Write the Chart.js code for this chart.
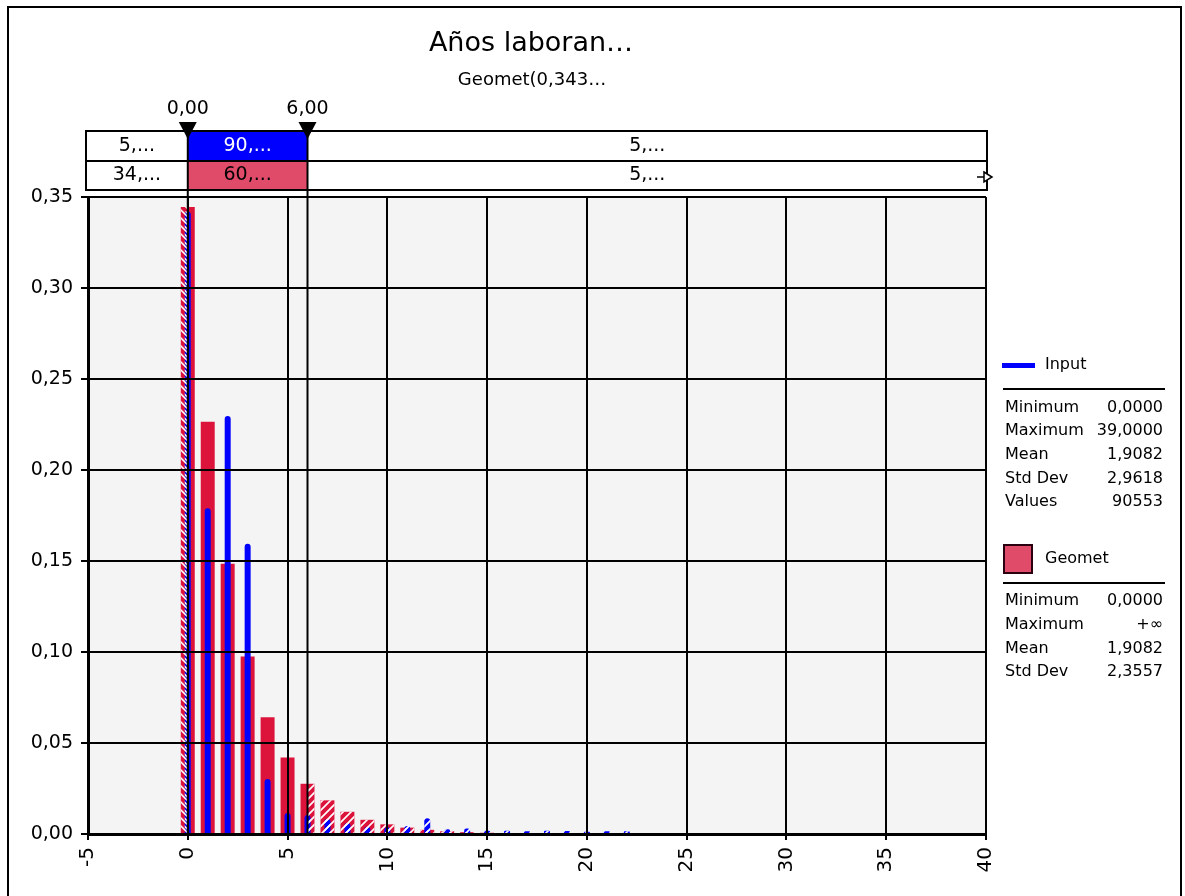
<!DOCTYPE html>
<html>
<head>
<meta charset="utf-8">
<title>Años laboran…</title>
<script src="https://cdn.jsdelivr.net/npm/chart.js@4.4.1/dist/chart.umd.min.js"></script>
<style>
  html, body { margin: 0; padding: 0; background: #fff; }
  #wrap { position: relative; width: 1185px; height: 896px; }
</style>
</head>
<body>
<div id="wrap"><canvas id="chart" width="1185" height="896"></canvas></div>
<script>
// valeurs
const inputBins   = [0, 1, 2, 3, 4, 5, 6, 7, 8, 9, 10, 11, 12, 13, 14, 15, 16, 17, 18, 19, 20, 21, 22];
const inputValues = [0.342, 0.179, 0.2297, 0.1595, 0.0302, 0.0115, 0.0105, 0.0083, 0.006, 0.004, 0.0037, 0.0044,
                     0.0086, 0.0026, 0.003, 0.0018, 0.0018, 0.0015, 0.0018, 0.0017, 0.0013, 0.0015, 0.0015];
const geometBins   = [0, 1, 2, 3, 4, 5, 6, 7, 8, 9, 10, 11, 12, 13, 14, 15, 16, 17, 18];
const geometValues = [0.3445, 0.2265, 0.1485, 0.0975, 0.0642, 0.042, 0.0276, 0.0185, 0.0122, 0.0078, 0.0053,
                      0.0035, 0.0023, 0.0015, 0.001, 0.0007, 0.0004, 0.0003, 0.0002];

const xMin = -5, xMax = 40, xStep = 5;
const yMin = 0, yMax = 0.35, yStep = 0.05;

const titleText = 'Años laboran…';
const subtitleText = 'Geomet(0,343…';
const delimiters = [0, 6];
const delimiterLabels = ['0,00', '6,00'];
const bandInput  = ['5,...', '90,...', '5,...'];
const bandGeomet = ['34,...', '60,...', '5,...'];

const inputStats = [
    ['Minimum', '0,0000'],
    ['Maximum', '39,0000'],
    ['Mean', '1,9082'],
    ['Std Dev', '2,9618'],
    ['Values', '90553'],
];
const geometStats = [
    ['Minimum', '0,0000'],
    ['Maximum', '+∞'],
    ['Mean', '1,9082'],
    ['Std Dev', '2,3557'],
];

const BLUE = '#0000FF';
const RED = '#DC143C';
const PINK = '#E04B6A';
const FONT = "'DejaVu Sans', Verdana, sans-serif";

Chart.defaults.font.family = FONT;
Chart.defaults.color = '#000';

const fmt = v => v.toFixed(2).replace('.', ',');

// hachures blanches sur la partie hors délimiteurs
function hatchRect(ctx, x0, x1, y0, y1, slash) {
    const h = y1 - y0;
    ctx.save();
    ctx.beginPath();
    ctx.rect(x0, y0, x1 - x0, h);
    ctx.clip();
    ctx.strokeStyle = '#fff';
    ctx.lineWidth = 1.6;
    ctx.beginPath();
    const start = Math.floor((x0 - h) / 8) * 8;
    for (let t = start; t < x1 + 8; t += 8) {
        if (slash) {
            ctx.moveTo(t, y1 + 2);
            ctx.lineTo(t + h + 4, y0 - 2);
        } else {
            ctx.moveTo(t, y0 - 2);
            ctx.lineTo(t + h + 4, y1 + 2);
        }
    }
    ctx.stroke();
    ctx.restore();
}

function text(ctx, str, x, y, size, align, color) {
    ctx.font = `${size}px ${FONT}`;
    ctx.textAlign = align || 'center';
    ctx.textBaseline = 'middle';
    ctx.fillStyle = color || '#000';
    ctx.fillText(str, x, y);
}

const extras = {
    id: 'extras',
    beforeDraw(chart) {
        const {ctx, chartArea: a} = chart;
        ctx.save();
        ctx.fillStyle = '#F4F4F4';
        ctx.fillRect(a.left, a.top, a.right - a.left, a.bottom - a.top);
        ctx.restore();
    },
    afterDatasetsDraw(chart) {
        const {ctx} = chart;
        const xs = chart.scales.x;
        const p0 = xs.getPixelForValue(delimiters[0]);
        const p1 = xs.getPixelForValue(delimiters[1]);
        // même ordre que le dessin : rouge d'abord, puis bleu
        [1, 0].forEach(i => {
            chart.getDatasetMeta(i).data.forEach(bar => {
                const {x, y, base, width} = bar.getProps(['x', 'y', 'base', 'width'], true);
                const l = x - width / 2, r = x + width / 2;
                if (l < p0) hatchRect(ctx, l, Math.min(r, p0), y, base, false);
                if (r > p1) hatchRect(ctx, Math.max(l, p1), r, y, base, true);
            });
        });
    },
    afterDraw(chart) {
        const {ctx, chartArea: a} = chart;
        const xs = chart.scales.x;
        const px = delimiters.map(v => xs.getPixelForValue(v));
        ctx.save();

        // cadre
        ctx.strokeStyle = '#000';
        ctx.lineWidth = 2;
        ctx.strokeRect(8, 7, 1173, 900);

        // titre
        text(ctx, titleText, 531, 44, 27);
        text(ctx, subtitleText, 532, 80, 18);

        // bandeau des délimiteurs
        const bl = a.left - 2, br = a.right + 1;
        const rows = [131, 161, 190];
        ctx.fillStyle = '#fff';
        ctx.fillRect(bl, rows[0], br - bl, rows[2] - rows[0]);
        ctx.fillStyle = BLUE;
        ctx.fillRect(px[0], rows[0], px[1] - px[0], rows[1] - rows[0]);
        ctx.fillStyle = PINK;
        ctx.fillRect(px[0], rows[1], px[1] - px[0], rows[2] - rows[1]);
        ctx.strokeStyle = '#000';
        ctx.lineWidth = 2;
        ctx.strokeRect(bl, rows[0], br - bl, rows[2] - rows[0]);
        ctx.beginPath();
        ctx.moveTo(bl, rows[1]);
        ctx.lineTo(br, rows[1]);
        ctx.stroke();

        const cells = [[bl, px[0]], [px[0], px[1]], [px[1], br]];
        cells.forEach(([c0, c1], k) => {
            const cx = (c0 + c1) / 2;
            text(ctx, bandInput[k], cx, (rows[0] + rows[1]) / 2, 19, 'center', k === 1 ? '#fff' : '#000');
            text(ctx, bandGeomet[k], cx, (rows[1] + rows[2]) / 2, 19, 'center', '#000');
        });

        // petite flèche à droite
        const ay = 177;
        ctx.lineWidth = 1.5;
        ctx.beginPath();
        ctx.moveTo(br - 10, ay);
        ctx.lineTo(br - 3, ay);
        ctx.stroke();
        ctx.beginPath();
        ctx.moveTo(br - 3, ay - 5);
        ctx.lineTo(br + 5, ay);
        ctx.lineTo(br - 3, ay + 5);
        ctx.closePath();
        ctx.fillStyle = '#fff';
        ctx.fill();
        ctx.stroke();

        // lignes des délimiteurs
        ctx.lineWidth = 2;
        px.forEach((p, k) => {
            ctx.beginPath();
            ctx.moveTo(p, 124);
            ctx.lineTo(p, a.bottom);
            ctx.stroke();
            ctx.beginPath();
            ctx.moveTo(p - 9, 122);
            ctx.lineTo(p + 9, 122);
            ctx.lineTo(p, 139);
            ctx.closePath();
            ctx.fillStyle = '#000';
            ctx.fill();
            text(ctx, delimiterLabels[k], p, 109, 19);
        });

        // légende
        const lx = 1003, rx = 1163;
        ctx.fillStyle = BLUE;
        ctx.fillRect(1002, 363, 33, 5);
        text(ctx, 'Input', 1045, 365, 16, 'left');
        ctx.fillStyle = '#000';
        ctx.fillRect(lx, 388, 1165 - lx, 2);
        inputStats.forEach(([k, v], i) => {
            const y = 407.5 + i * 23.7;
            text(ctx, k, 1005, y, 16, 'left');
            text(ctx, v, rx, y, 16, 'right');
        });

        ctx.fillStyle = PINK;
        ctx.fillRect(1003, 544, 30, 30);
        ctx.strokeStyle = '#2a0010';
        ctx.lineWidth = 2;
        ctx.strokeRect(1004, 545, 28, 28);
        text(ctx, 'Geomet', 1045, 559, 16, 'left');
        ctx.fillStyle = '#000';
        ctx.fillRect(lx, 582, 1165 - lx, 2);
        geometStats.forEach(([k, v], i) => {
            const y = 601 + i * 23.7;
            text(ctx, k, 1005, y, 16, 'left');
            text(ctx, v, rx, y, 16, 'right');
        });

        ctx.restore();
    }
};

new Chart(document.getElementById('chart'), {
    type: 'bar',
    data: {
        datasets: [
            {
                label: 'Input',
                data: inputBins.map((b, i) => ({x: b, y: inputValues[i]})),
                backgroundColor: BLUE,
                grouped: false,
                order: 0,
                categoryPercentage: 1,
                barPercentage: 0.3,
                borderRadius: {topLeft: 3, topRight: 3, bottomLeft: 0, bottomRight: 0},
                borderSkipped: false,
            },
            {
                label: 'Geomet',
                data: geometBins.map((b, i) => ({x: b, y: geometValues[i]})),
                backgroundColor: RED,
                grouped: false,
                order: 1,
                categoryPercentage: 1,
                barPercentage: 0.7,
            }
        ]
    },
    options: {
        responsive: false,
        animation: false,
        layout: { padding: { top: 197, right: 199, left: 0, bottom: 0 } },
        plugins: {
            legend: { display: false },
            tooltip: { enabled: false }
        },
        scales: {
            x: {
                type: 'linear',
                offset: false,
                min: xMin,
                max: xMax,
                afterFit: s => { s.height = 62; },
                grid: { color: '#000', lineWidth: 2, tickLength: 6, z: 1, offset: false },
                border: { color: '#000', width: 3, z: 1 },
                ticks: {
                    stepSize: xStep,
                    minRotation: 90,
                    maxRotation: 90,
                    padding: 7,
                    font: { size: 20 },
                    callback: v => String(v)
                }
            },
            y: {
                min: yMin,
                max: yMax,
                afterFit: s => { s.width = 88; },
                grid: { color: '#000', lineWidth: 2, tickLength: 7, z: 1 },
                border: { color: '#000', width: 3, z: 1 },
                ticks: {
                    stepSize: yStep,
                    padding: 8,
                    font: { size: 19 },
                    callback: v => fmt(v)
                }
            }
        }
    },
    plugins: [extras]
});
</script>
</body>
</html>
